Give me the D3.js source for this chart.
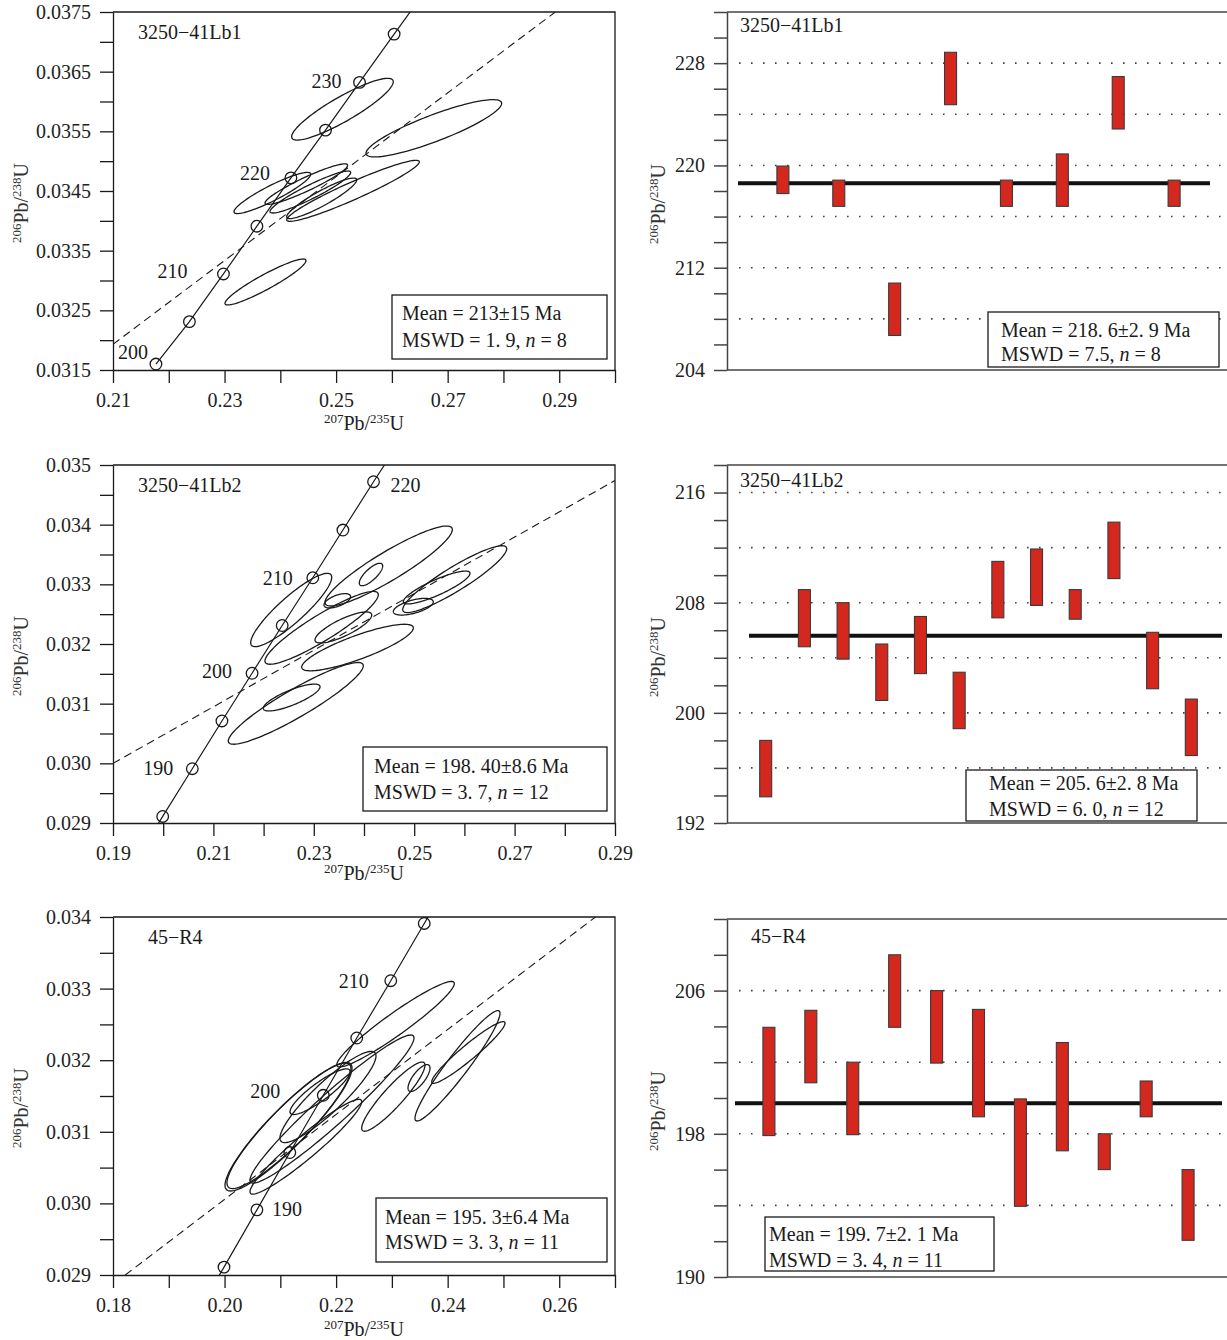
<!DOCTYPE html>
<html><head><meta charset="utf-8">
<script src="https://cdn.jsdelivr.net/npm/d3@7"></script>
<style>
body{margin:0;background:#fff;}
svg{display:block;font-family:"Liberation Serif","Times New Roman",serif;}
</style></head><body>
<svg id="fig" width="1227" height="1340"></svg>
<script>
// ---------- Concordia data: [207Pb/235U, ±, 206Pb/238U, ±, rho] ----------
const lb1Ellipses = [
  [0.25114, 0.00911, 0.035871, 0.000517, 0.89],
  [0.26752, 0.01216, 0.035551, 0.000480, 0.87],
  [0.25303, 0.01189, 0.034503, 0.000511, 0.95],
  [0.23857, 0.00688, 0.034467, 0.000345, 0.91],
  [0.24466, 0.00741, 0.034615, 0.000340, 0.93],
  [0.24538, 0.00723, 0.034483, 0.000352, 0.93],
  [0.24742, 0.00628, 0.034377, 0.000340, 0.91],
  [0.23734, 0.00726, 0.032975, 0.000385, 0.93]
];
const lb2Ellipses = [
  [0.22550, 0.00807, 0.032570, 0.000615, 0.89],
  [0.24491, 0.01268, 0.033307, 0.000670, 0.91],
  [0.24139, 0.00233, 0.033165, 0.000188, 0.76],
  [0.23468, 0.00265, 0.032724, 0.000120, 0.58],
  [0.23156, 0.01129, 0.032271, 0.000610, 0.91],
  [0.23589, 0.00565, 0.032277, 0.000260, 0.80],
  [0.23871, 0.01112, 0.031941, 0.000390, 0.84],
  [0.22559, 0.00565, 0.031103, 0.000225, 0.80],
  [0.22641, 0.01345, 0.031005, 0.000685, 0.92],
  [0.24982, 0.00398, 0.032625, 0.000140, 0.58],
  [0.25807, 0.01036, 0.033087, 0.000560, 0.91],
  [0.25447, 0.00664, 0.032947, 0.000275, 0.86]
];
const r4Ellipses = [
  [0.21137, 0.01129, 0.031067, 0.000894, 0.91],
  [0.21164, 0.01121, 0.031088, 0.000881, 0.91],
  [0.23065, 0.01054, 0.032503, 0.000597, 0.95],
  [0.21926, 0.01470, 0.031318, 0.001034, 0.96],
  [0.21711, 0.00538, 0.031560, 0.000319, 0.88],
  [0.21854, 0.00861, 0.031486, 0.000637, 0.90],
  [0.21457, 0.01001, 0.030792, 0.000662, 0.95],
  [0.23026, 0.00567, 0.031491, 0.000483, 0.91],
  [0.23486, 0.00197, 0.031751, 0.000188, 0.74],
  [0.24176, 0.00762, 0.031922, 0.000771, 0.95],
  [0.24371, 0.00657, 0.032108, 0.000431, 0.95]
];

// Concordia age markers (Ma) and their ratios
const lb1ConcAge = [200, 205, 210, 215, 220, 225, 230, 235, 240];
const lb1ConcX = [0.2177, 0.2237, 0.2298, 0.2358, 0.2419, 0.2481, 0.2542, 0.2604, 0.2666];
const lb1ConcY = [0.0316, 0.03231, 0.03311, 0.03391, 0.03472, 0.03552, 0.03632, 0.03713, 0.03793];
const lb2ConcAge = [180, 185, 190, 195, 200, 205, 210, 215, 220, 225];
const lb2ConcX = [0.1940, 0.1999, 0.2058, 0.2117, 0.2177, 0.2237, 0.2298, 0.2358, 0.2419, 0.2481];
const lb2ConcY = [0.02832, 0.02911, 0.02991, 0.03071, 0.03151, 0.03231, 0.03311, 0.03391, 0.03472, 0.03552];
const r4ConcAge = [180, 185, 190, 195, 200, 205, 210, 215, 220];
const r4ConcX = [0.1940, 0.1999, 0.2058, 0.2117, 0.2177, 0.2237, 0.2298, 0.2358, 0.2419];
const r4ConcY = [0.02832, 0.02911, 0.02991, 0.03071, 0.03151, 0.03231, 0.03311, 0.03391, 0.03472];

// Discordia reference lines (endpoints)
const lb1Discordia = [[0.21, 0.03193], [0.2893, 0.0375]];
const lb2Discordia = [[0.19, 0.0300], [0.29, 0.03474]];
const r4Discordia = [[0.1822, 0.029], [0.2665, 0.034]];

// Axis ticks and labels
const lb1XLabels = ["0.21", "0.23", "0.25", "0.27", "0.29"];
const lb1YLabels = ["0.0315", "0.0325", "0.0335", "0.0345", "0.0355", "0.0365", "0.0375"];
const lb2XLabels = ["0.19", "0.21", "0.23", "0.25", "0.27", "0.29"];
const lb2YLabels = ["0.029", "0.030", "0.031", "0.032", "0.033", "0.034", "0.035"];
const r4XLabels = ["0.18", "0.20", "0.22", "0.24", "0.26"];
const r4YLabels = ["0.029", "0.030", "0.031", "0.032", "0.033", "0.034"];

// ---------- Weighted-mean data: 206Pb/238U age ranges (Ma) ----------
const lb1Ages = [[217.8, 219.95], [216.8, 218.85], [206.7, 210.8], [224.75, 228.85],
  [216.8, 218.85], [216.8, 220.9], [222.85, 226.95], [216.8, 218.85]];
const lb2Ages = [[193.9, 198.0], [204.8, 208.95], [203.9, 208.0], [200.9, 205.0],
  [202.85, 207.0], [198.85, 202.95], [206.9, 211.0], [207.8, 211.9],
  [206.8, 208.95], [209.75, 213.85], [201.75, 205.85], [196.9, 201.0]];
const r4Ages = [[197.9, 203.95], [200.85, 204.9], [197.95, 202.0], [203.95, 208.0],
  [201.95, 206.0], [198.95, 204.95], [193.95, 199.95], [197.05, 203.1],
  [196.0, 198.0], [198.95, 200.95], [192.05, 196.0]];
const lb1Mean = 218.6, lb2Mean = 205.6, r4Mean = 199.7;
const lb1AgeLabels = ["204", "212", "220", "228"];
const lb2AgeLabels = ["192", "200", "208", "216"];
const r4AgeLabels = ["190", "198", "206"];

// ---------- drawing ----------
const svg = d3.select("#fig");
const INK = "#1a1a1a";

// label text for a tick value, or "" when the tick is unlabelled
function pickLabel(labels, v) {
  const s = labels.find(t => Math.abs(+t - v) < 1e-9);
  return s === undefined ? "" : s;
}

function yLabel(x, y, a, b) {
  const t = svg.append("text").attr("transform", `translate(${x},${y}) rotate(-90)`)
    .attr("text-anchor", "middle").attr("fill", "#333").attr("font-size", 20);
  t.append("tspan").attr("font-size", 13).attr("dy", -7).text(a);
  t.append("tspan").attr("dy", 7).text("Pb/");
  t.append("tspan").attr("font-size", 13).attr("dy", -7).text(b);
  t.append("tspan").attr("dy", 7).text("U");
}
function xLabel(x, y) {
  const t = svg.append("text").attr("x", x).attr("y", y)
    .attr("text-anchor", "middle").attr("fill", "#222").attr("font-size", 20);
  t.append("tspan").attr("font-size", 13).attr("dy", -7).text("207");
  t.append("tspan").attr("dy", 7).text("Pb/");
  t.append("tspan").attr("font-size", 13).attr("dy", -7).text("235");
  t.append("tspan").attr("dy", 7).text("U");
}
function statBox(b, l1, l2a, l2b) {
  svg.append("rect").attr("x", b.x).attr("y", b.y).attr("width", b.w).attr("height", b.h)
    .attr("fill", "#fff").attr("stroke", INK).attr("stroke-width", 1.3);
  svg.append("text").attr("x", b.tx).attr("y", b.ty1).attr("font-size", 20).attr("fill", INK).text(l1);
  const t = svg.append("text").attr("x", b.tx).attr("y", b.ty2).attr("font-size", 20).attr("fill", INK);
  t.append("tspan").text(l2a);
  t.append("tspan").attr("font-style", "italic").text("n");
  t.append("tspan").text(l2b);
}

function concordiaPanel(p) {
  const X0 = 113, X1 = 615;
  const x = d3.scaleLinear().domain(p.xDomain).range([X0, X1]);
  const y = d3.scaleLinear().domain(p.yDomain).range([p.bottom, p.top]);
  const clipId = "clip-" + p.id;
  svg.append("clipPath").attr("id", clipId).append("rect")
    .attr("x", X0).attr("y", p.top).attr("width", X1 - X0).attr("height", p.bottom - p.top);
  const plot = svg.append("g").attr("clip-path", `url(#${clipId})`);

  plot.append("line")
    .attr("x1", x(p.disc[0][0])).attr("y1", y(p.disc[0][1]))
    .attr("x2", x(p.disc[1][0])).attr("y2", y(p.disc[1][1]))
    .attr("stroke", INK).attr("stroke-width", 1.1).attr("stroke-dasharray", "8,5");

  const theta = d3.range(0, 360, 3).map(d => d * Math.PI / 180);
  plot.selectAll("path.ell").data(p.ellipses).join("path").attr("class", "ell")
    .attr("fill", "none").attr("stroke", INK).attr("stroke-width", 1.3)
    .attr("d", e => d3.line()
      .x(t => x(e[0] + e[1] * Math.cos(t)))
      .y(t => y(e[2] + e[3] * (e[4] * Math.cos(t) + Math.sqrt(1 - e[4] * e[4]) * Math.sin(t))))
      .curve(d3.curveLinearClosed)(theta));

  const pts = p.age.map((a, i) => ({ age: a, cx: p.cx[i], cy: p.cy[i] }));
  plot.append("path").datum(pts).attr("fill", "none").attr("stroke", INK).attr("stroke-width", 1.2)
    .attr("d", d3.line().x(d => x(d.cx)).y(d => y(d.cy)));
  plot.selectAll("circle").data(pts).join("circle")
    .attr("cx", d => x(d.cx)).attr("cy", d => y(d.cy)).attr("r", 5.8)
    .attr("fill", "none").attr("stroke", INK).attr("stroke-width", 1.3);

  p.ageLabels.forEach(l => {
    const d = pts.find(q => q.age === l.age);
    svg.append("text").attr("x", x(d.cx) + l.dx).attr("y", y(d.cy) + l.dy + 7)
      .attr("text-anchor", l.anchor).attr("font-size", 20).attr("fill", INK).text(l.age);
  });

  const xAxis = d3.axisBottom(x).tickValues(p.xTicks).tickSize(13).tickSizeOuter(0).tickPadding(10)
    .tickFormat(v => pickLabel(p.xLabels, v));
  const yAxis = d3.axisLeft(y).tickValues(p.yTicks).tickSize(13).tickSizeOuter(0).tickPadding(9)
    .tickFormat(v => pickLabel(p.yLabels, v));
  [svg.append("g").attr("transform", `translate(0,${p.bottom})`).call(xAxis),
   svg.append("g").attr("transform", `translate(${X0},0)`).call(yAxis)].forEach(g => {
    g.attr("color", INK).attr("font-family", null).attr("font-size", null);
    g.selectAll("line,path").attr("stroke-width", 1.3);
    g.selectAll("text").attr("font-size", 20).attr("fill", "#222");
  });
  svg.append("path").attr("d", `M${X0},${p.top}H${X1}V${p.bottom}`)
    .attr("fill", "none").attr("stroke", INK).attr("stroke-width", 1.3);

  svg.append("text").attr("x", p.titleX).attr("y", p.top + 27).attr("font-size", 20)
    .attr("fill", INK).text(p.title);
  xLabel(364, p.xLabelY);
  yLabel(28, (p.top + p.bottom) / 2 + 12, "206", "238");
  statBox(p.box, p.l1, p.l2a, p.l2b);
}

function agePanel(p) {
  const X0 = 727, X1 = 1227;
  const n = p.ages.length;
  const x = d3.scaleLinear().domain([0, n + 1]).range([X0, 1230]);
  const y = d3.scaleLinear().domain(p.yDomain).range([p.bottom, p.top]);
  const grid = d3.range(p.yDomain[0] + 4, p.yDomain[1], 4);
  svg.append("g").selectAll("line").data(grid).join("line")
    .attr("x1", 739).attr("x2", X1).attr("y1", d => y(d)).attr("y2", d => y(d))
    .attr("stroke", "#444").attr("stroke-width", 1.6).attr("stroke-dasharray", "1.6,10.4");

  const ticks = d3.range(p.yDomain[0], p.yDomain[1] + 0.01, 2);
  const yAxis = d3.axisLeft(y).tickValues(ticks).tickSize(13).tickSizeOuter(0).tickPadding(9)
    .tickFormat(v => pickLabel(p.yLabels, v));
  const g = svg.append("g").attr("transform", `translate(${X0},0)`).call(yAxis);
  g.attr("color", "#444").attr("font-family", null).attr("font-size", null);
  g.selectAll("line,path").attr("stroke-width", 1.5);
  g.selectAll("text").attr("font-size", 20).attr("fill", "#222");
  svg.append("line").attr("x1", X0).attr("x2", X1).attr("y1", p.top).attr("y2", p.top)
    .attr("stroke", "#444").attr("stroke-width", 1.5);
  svg.append("line").attr("x1", X0).attr("x2", X1).attr("y1", p.bottom).attr("y2", p.bottom)
    .attr("stroke", "#444").attr("stroke-width", 1.5);

  svg.append("line").attr("x1", p.meanX[0]).attr("x2", p.meanX[1])
    .attr("y1", y(p.mean)).attr("y2", y(p.mean)).attr("stroke", "#111").attr("stroke-width", 4);

  svg.append("g").selectAll("rect").data(p.ages).join("rect")
    .attr("x", (d, i) => x(i + 1) - 6).attr("width", 12)
    .attr("y", d => y(d[1])).attr("height", d => y(d[0]) - y(d[1]))
    .attr("fill", "#d4281e").attr("stroke", "#3a3a3a").attr("stroke-width", 1.1);

  svg.append("text").attr("x", p.titleX).attr("y", p.titleY).attr("font-size", 20)
    .attr("fill", INK).text(p.title);
  yLabel(665, (p.top + p.bottom) / 2 + 13, "206", "238");
  statBox(p.box, p.l1, p.l2a, p.l2b);
}

concordiaPanel({
  id: "lb1", title: "3250\u221241Lb1", titleX: 138,
  top: 12, bottom: 370, xDomain: [0.21, 0.30], yDomain: [0.0315, 0.0375],
  xTicks: d3.range(21, 31).map(v => v / 100), yTicks: d3.range(315, 376, 5).map(v => v / 10000),
  xLabels: lb1XLabels, yLabels: lb1YLabels,
  ellipses: lb1Ellipses, age: lb1ConcAge, cx: lb1ConcX, cy: lb1ConcY, disc: lb1Discordia,
  ageLabels: [{ age: 200, dx: -8, dy: -12, anchor: "end" }, { age: 210, dx: -36, dy: -3, anchor: "end" },
    { age: 220, dx: -21, dy: -5, anchor: "end" }, { age: 230, dx: -18, dy: -1, anchor: "end" }],
  xLabelY: 430,
  box: { x: 392, y: 295, w: 215, h: 64, tx: 402, ty1: 320, ty2: 347 },
  l1: "Mean = 213\u00b115 Ma", l2a: "MSWD = 1. 9, ", l2b: " = 8"
});
concordiaPanel({
  id: "lb2", title: "3250\u221241Lb2", titleX: 138,
  top: 465, bottom: 823, xDomain: [0.19, 0.29], yDomain: [0.029, 0.035],
  xTicks: d3.range(19, 30).map(v => v / 100), yTicks: d3.range(290, 351, 5).map(v => v / 10000),
  xLabels: lb2XLabels, yLabels: lb2YLabels,
  ellipses: lb2Ellipses, age: lb2ConcAge, cx: lb2ConcX, cy: lb2ConcY, disc: lb2Discordia,
  ageLabels: [{ age: 190, dx: -19, dy: -1, anchor: "end" }, { age: 200, dx: -20, dy: -2, anchor: "end" },
    { age: 210, dx: -20, dy: 0, anchor: "end" }, { age: 220, dx: 17, dy: 3, anchor: "start" }],
  xLabelY: 880,
  box: { x: 363, y: 747, w: 244, h: 64, tx: 374, ty1: 773, ty2: 799 },
  l1: "Mean = 198. 40\u00b18.6 Ma", l2a: "MSWD = 3. 7, ", l2b: " = 12"
});
concordiaPanel({
  id: "r4", title: "45\u2212R4", titleX: 148,
  top: 917, bottom: 1275, xDomain: [0.18, 0.27], yDomain: [0.029, 0.034],
  xTicks: d3.range(18, 28).map(v => v / 100), yTicks: d3.range(290, 341, 5).map(v => v / 10000),
  xLabels: r4XLabels, yLabels: r4YLabels,
  ellipses: r4Ellipses, age: r4ConcAge, cx: r4ConcX, cy: r4ConcY, disc: r4Discordia,
  ageLabels: [{ age: 190, dx: 15, dy: -1, anchor: "start" }, { age: 200, dx: -43, dy: -4, anchor: "end" },
    { age: 210, dx: -22, dy: 0, anchor: "end" }],
  xLabelY: 1336,
  box: { x: 376, y: 1198, w: 231, h: 64, tx: 385, ty1: 1224, ty2: 1249 },
  l1: "Mean = 195. 3\u00b16.4 Ma", l2a: "MSWD = 3. 3, ", l2b: " = 11"
});

agePanel({
  title: "3250\u221241Lb1", titleX: 740, titleY: 32,
  top: 12, bottom: 370, yDomain: [204, 232], yLabels: lb1AgeLabels,
  ages: lb1Ages, mean: lb1Mean, meanX: [738, 1210],
  box: { x: 988, y: 312, w: 231, h: 55, tx: 1001, ty1: 337, ty2: 361 },
  l1: "Mean = 218. 6\u00b12. 9 Ma", l2a: "MSWD = 7.5, ", l2b: " = 8"
});
agePanel({
  title: "3250\u221241Lb2", titleX: 740, titleY: 487,
  top: 465, bottom: 823, yDomain: [192, 218], yLabels: lb2AgeLabels,
  ages: lb2Ages, mean: lb2Mean, meanX: [749, 1222],
  box: { x: 966, y: 770, w: 231, h: 51, tx: 989, ty1: 790, ty2: 816 },
  l1: "Mean = 205. 6\u00b12. 8 Ma", l2a: "MSWD = 6. 0, ", l2b: " = 12"
});
agePanel({
  title: "45\u2212R4", titleX: 751, titleY: 943,
  top: 919, bottom: 1277, yDomain: [190, 210], yLabels: r4AgeLabels,
  ages: r4Ages, mean: r4Mean, meanX: [735, 1222],
  box: { x: 765, y: 1217, w: 229, h: 54, tx: 769, ty1: 1241, ty2: 1267 },
  l1: "Mean = 199. 7\u00b12. 1 Ma", l2a: "MSWD = 3. 4, ", l2b: " = 11"
});
</script>
</body></html>
